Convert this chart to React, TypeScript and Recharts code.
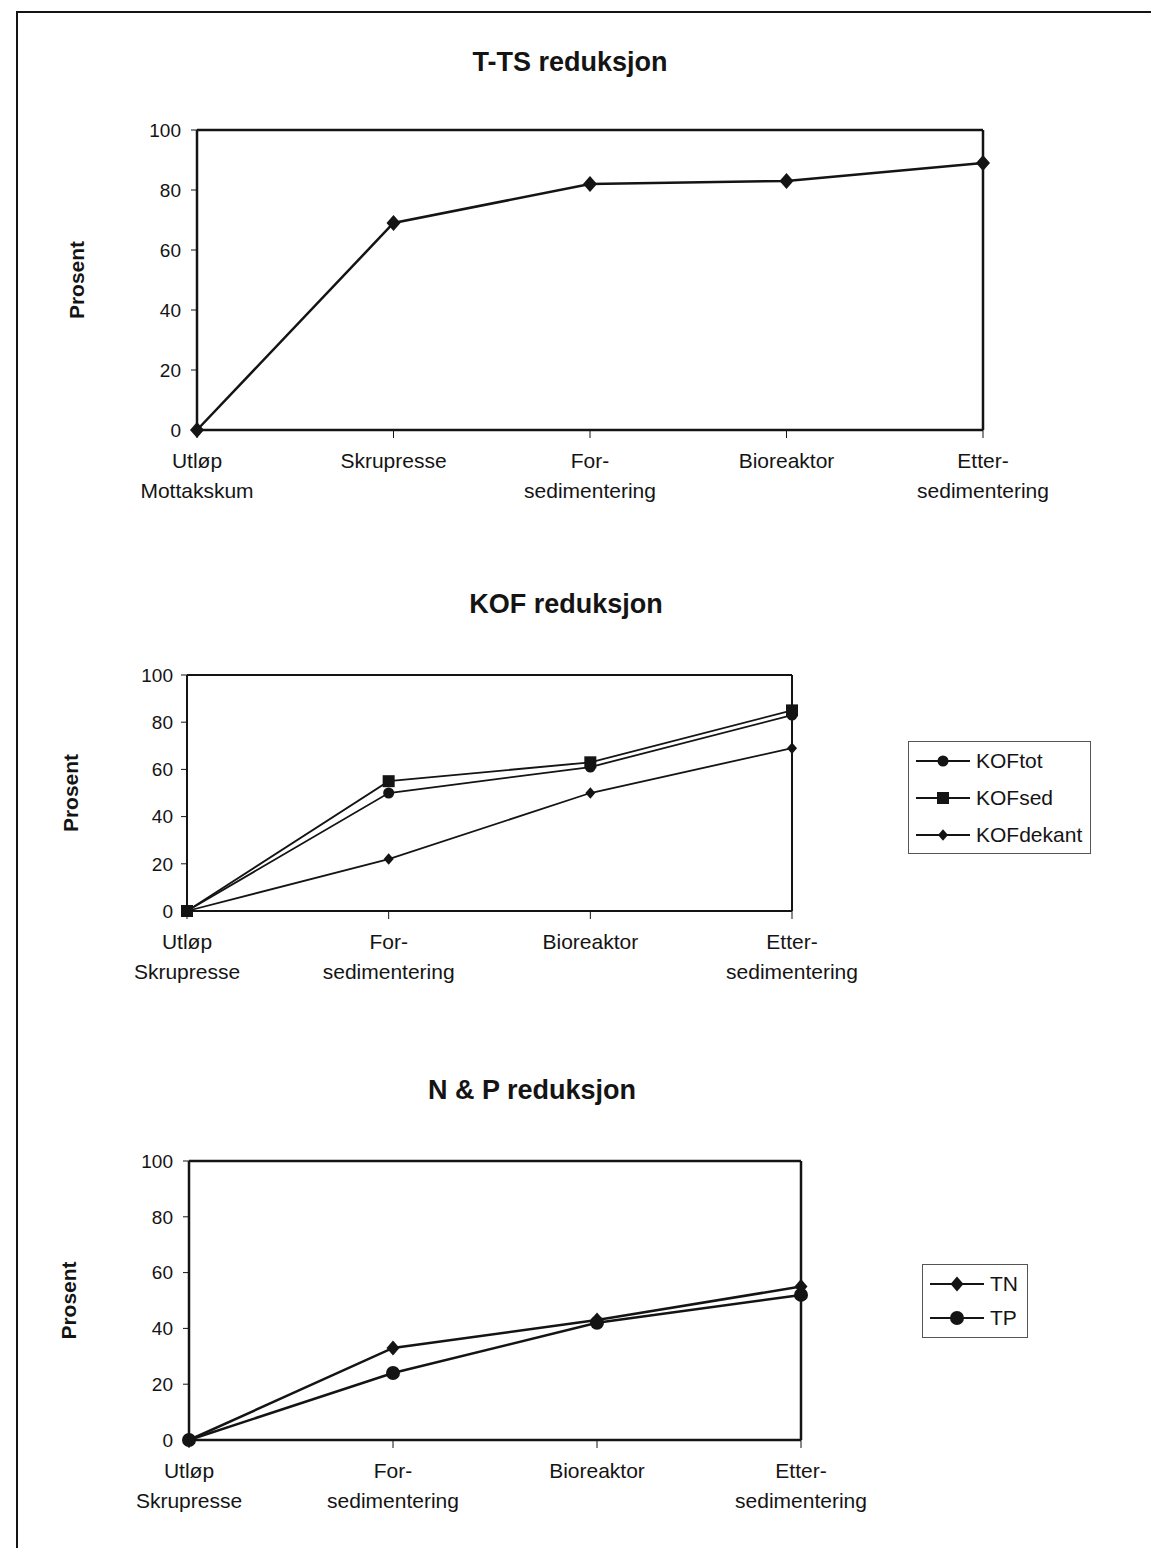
import React from "react";
import { Legend, Line, LineChart, ReferenceLine, XAxis, YAxis } from "recharts";

// values (percent reduction)
const ttsCategories = ["Utløp\nMottakskum", "Skrupresse", "For-\nsedimentering", "Bioreaktor", "Etter-\nsedimentering"];
const ttsValues = [0, 69, 82, 83, 89];

const stepCategories = ["Utløp\nSkrupresse", "For-\nsedimentering", "Bioreaktor", "Etter-\nsedimentering"];
const kofTot = [0, 50, 61, 83];
const kofSed = [0, 55, 63, 85];
const kofDekant = [0, 22, 50, 69];

const tnValues = [0, 33, 43, 55];
const tpValues = [0, 24, 42, 52];

const yTicks = [0, 20, 40, 60, 80, 100];

const FONT = '"Liberation Sans", Arial, Helvetica, sans-serif';
const INK = "#141414";

type Shape = "circle" | "square" | "diamond";

function Marker({ cx, cy, shape, size }: { cx: number; cy: number; shape: Shape; size: number }) {
  const h = size / 2;
  if (shape === "circle") return <circle cx={cx} cy={cy} r={h} fill={INK} />;
  if (shape === "square") return <rect x={cx - h} y={cy - h} width={size} height={size} fill={INK} />;
  return (
    <polygon
      points={`${cx},${cy - h * 1.15} ${cx + h},${cy} ${cx},${cy + h * 1.15} ${cx - h},${cy}`}
      fill={INK}
    />
  );
}

const dotFor = (shape: Shape, size: number) => (p: any) =>
  <Marker key={`${p.dataKey}-${p.index}`} cx={p.cx} cy={p.cy} shape={shape} size={size} />;

function CatTick({ x, y, payload }: any) {
  const lines = String(payload.value).split("\n");
  return (
    <text x={x} y={y} textAnchor="middle" fontSize={21} fontFamily={FONT} fill={INK}>
      {lines.map((l, i) => (
        <tspan key={i} x={x} dy={i === 0 ? 28 : 30}>
          {l}
        </tspan>
      ))}
    </text>
  );
}

const yLabel = (centerX: number) => (props: any) => {
  const vb = props.viewBox;
  const cy = vb.y + vb.height / 2;
  return (
    <text
      x={centerX}
      y={cy}
      transform={`rotate(-90 ${centerX} ${cy})`}
      textAnchor="middle"
      dominantBaseline="central"
      fontSize={21}
      fontWeight="bold"
      fontFamily={FONT}
      fill={INK}
    >
      Prosent
    </text>
  );
};

function Title({ text, cx, cy }: { text: string; cx: number; cy: number }) {
  return (
    <div
      style={{
        position: "absolute",
        left: cx - 300,
        top: cy - 16,
        width: 600,
        textAlign: "center",
        fontFamily: FONT,
        fontWeight: "bold",
        fontSize: 27,
        lineHeight: "32px",
        color: INK,
      }}
    >
      {text}
    </div>
  );
}

// legend box drawn in series order (Recharts sorts legend items by name otherwise)
const legendBox = (order: string[], shapes: Record<string, [Shape, number]>, rowH: number, padY: number) => (props: any) => {
  const items = [...props.payload].sort(
    (a: any, b: any) => order.indexOf(a.dataKey) - order.indexOf(b.dataKey)
  );
  return (
    <div
      style={{
        border: "1.5px solid #555",
        background: "#fff",
        padding: `${padY}px 6px ${padY}px 7px`,
        fontFamily: FONT,
        fontSize: 21,
        color: INK,
      }}
    >
      {items.map((item: any) => {
        const [shape, size] = shapes[item.dataKey];
        return (
          <div key={item.dataKey} style={{ display: "flex", alignItems: "center", height: rowH }}>
            <svg width={54} height={20} style={{ marginRight: 6 }}>
              <line x1={0} y1={10} x2={54} y2={10} stroke={INK} strokeWidth={2} />
              <Marker cx={27} cy={10} shape={shape} size={size} />
            </svg>
            <span>{item.value}</span>
          </div>
        );
      })}
    </div>
  );
};

const axisProps = {
  stroke: INK,
  tick: { fill: INK, fontSize: 19, fontFamily: FONT },
};

function TtsChart() {
  const data = ttsCategories.map((c, i) => ({ cat: c, tts: ttsValues[i] }));
  return (
    <div style={{ position: "absolute", left: 0, top: 0 }}>
      <LineChart width={1151} height={520} data={data} margin={{ top: 130, right: 168, bottom: 10, left: 0 }}>
        <XAxis dataKey="cat" interval={0} height={80} tickSize={8} tickMargin={2} tick={<CatTick />}
          axisLine={{ stroke: INK, strokeWidth: 2.5 }} tickLine={{ stroke: INK }} />
        <YAxis type="number" domain={[0, 100]} ticks={yTicks} width={197} tickSize={6} tickMargin={10}
          {...axisProps} axisLine={{ stroke: INK, strokeWidth: 2.5 }} tickLine={{ stroke: INK }} label={yLabel(76)} />
        <ReferenceLine y={100} stroke={INK} strokeWidth={2.5} />
        <ReferenceLine x={ttsCategories[ttsCategories.length - 1]} stroke={INK} strokeWidth={2.5} />
        <Line dataKey="tts" stroke={INK} strokeWidth={2.5} dot={dotFor("diamond", 14)} isAnimationActive={false} />
      </LineChart>
    </div>
  );
}

function KofChart() {
  const data = stepCategories.map((c, i) => ({ cat: c, KOFtot: kofTot[i], KOFsed: kofSed[i], KOFdekant: kofDekant[i] }));
  return (
    <div style={{ position: "absolute", left: 0, top: 560 }}>
      <LineChart width={1151} height={480} data={data} margin={{ top: 115, right: 359, bottom: 49, left: 0 }}>
        <XAxis dataKey="cat" interval={0} height={80} tickSize={8} tickMargin={2} tick={<CatTick />}
          axisLine={{ stroke: INK, strokeWidth: 2 }} tickLine={{ stroke: INK }} />
        <YAxis type="number" domain={[0, 100]} ticks={yTicks} width={187} tickSize={6} tickMargin={8}
          {...axisProps} axisLine={{ stroke: INK, strokeWidth: 2 }} tickLine={{ stroke: INK }} label={yLabel(70)} />
        <ReferenceLine y={100} stroke={INK} strokeWidth={2} />
        <ReferenceLine x={stepCategories[stepCategories.length - 1]} stroke={INK} strokeWidth={2} />
        <Legend layout="vertical" align="center" verticalAlign="middle"
          wrapperStyle={{ left: 908, top: 181, width: 183 }}
          content={legendBox(["KOFtot", "KOFsed", "KOFdekant"],
            { KOFtot: ["circle", 11], KOFsed: ["square", 12], KOFdekant: ["diamond", 10] }, 37, 0)} />
        <Line dataKey="KOFtot" name="KOFtot" stroke={INK} strokeWidth={1.8} dot={dotFor("circle", 11)} isAnimationActive={false} />
        <Line dataKey="KOFsed" name="KOFsed" stroke={INK} strokeWidth={1.8} dot={dotFor("square", 12)} isAnimationActive={false} />
        <Line dataKey="KOFdekant" name="KOFdekant" stroke={INK} strokeWidth={1.8} dot={dotFor("diamond", 10)} isAnimationActive={false} />
      </LineChart>
    </div>
  );
}

function NpChart() {
  const data = stepCategories.map((c, i) => ({ cat: c, TN: tnValues[i], TP: tpValues[i] }));
  return (
    <div style={{ position: "absolute", left: 0, top: 1050 }}>
      <LineChart width={1151} height={498} data={data} margin={{ top: 111, right: 350, bottom: 28, left: 0 }}>
        <XAxis dataKey="cat" interval={0} height={80} tickSize={8} tickMargin={2} tick={<CatTick />}
          axisLine={{ stroke: INK, strokeWidth: 2.5 }} tickLine={{ stroke: INK }} />
        <YAxis type="number" domain={[0, 100]} ticks={yTicks} width={189} tickSize={6} tickMargin={10}
          {...axisProps} axisLine={{ stroke: INK, strokeWidth: 2.5 }} tickLine={{ stroke: INK }} label={yLabel(68)} />
        <ReferenceLine y={100} stroke={INK} strokeWidth={2.5} />
        <ReferenceLine x={stepCategories[stepCategories.length - 1]} stroke={INK} strokeWidth={2.5} />
        <Legend layout="vertical" align="center" verticalAlign="middle"
          wrapperStyle={{ left: 922, top: 214, width: 106 }}
          content={legendBox(["TN", "TP"], { TN: ["diamond", 13], TP: ["circle", 14] }, 34, 2)} />
        <Line dataKey="TN" name="TN" stroke={INK} strokeWidth={2.5} dot={dotFor("diamond", 13)} isAnimationActive={false} />
        <Line dataKey="TP" name="TP" stroke={INK} strokeWidth={2.5} dot={dotFor("circle", 14)} isAnimationActive={false} />
      </LineChart>
    </div>
  );
}

export default function App() {
  return (
    <div
      style={{
        position: "absolute",
        left: 0,
        top: 0,
        width: 1151,
        height: 1548,
        overflow: "hidden",
        background: "#fff",
      }}
    >
      {/* scanned page frame */}
      <div
        style={{
          position: "absolute",
          left: 16,
          top: 11,
          width: 1200,
          height: 1600,
          borderLeft: `2px solid ${INK}`,
          borderTop: `2px solid ${INK}`,
        }}
      />
      <Title text="T-TS reduksjon" cx={570} cy={62} />
      <Title text="KOF reduksjon" cx={566} cy={604} />
      <Title text="N & P reduksjon" cx={532} cy={1090} />
      <TtsChart />
      <KofChart />
      <NpChart />
    </div>
  );
}
